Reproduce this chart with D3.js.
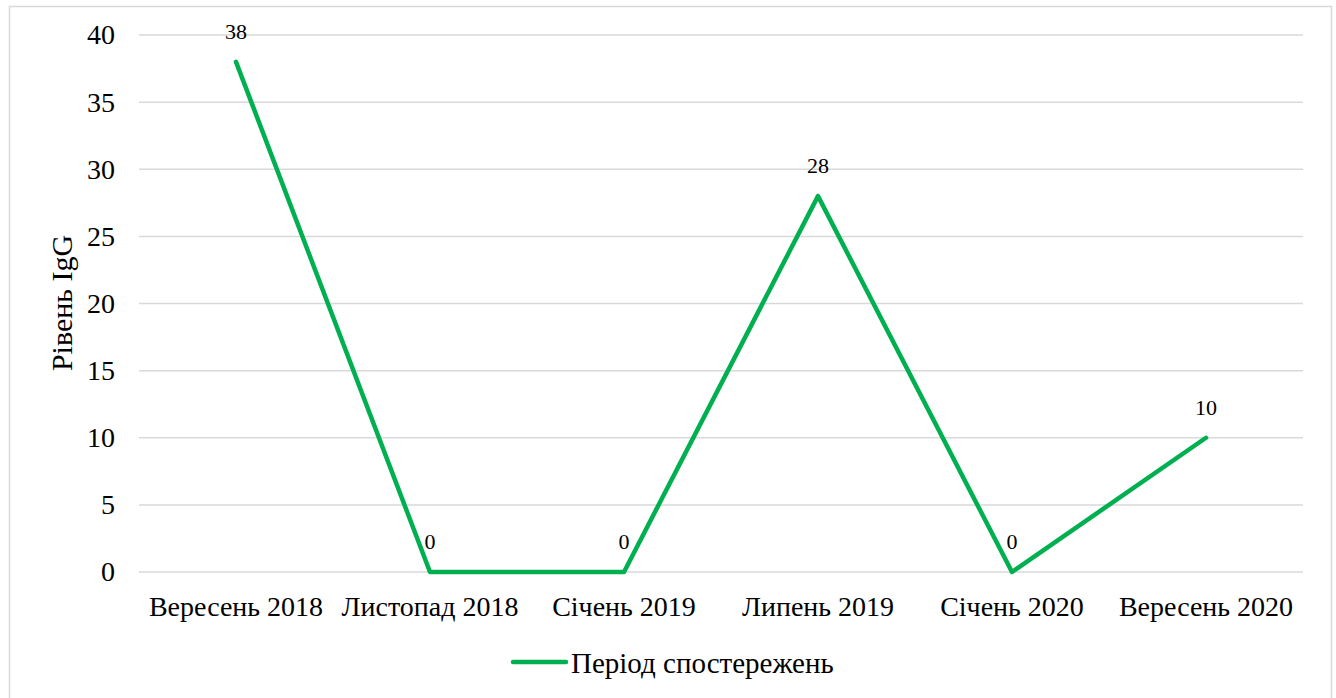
<!DOCTYPE html>
<html><head><meta charset="utf-8">
<script src="https://cdn.jsdelivr.net/npm/d3@7"></script>
<style>body{margin:0;background:#fff}svg{display:block}</style>
</head><body>
<svg id="c" width="1336" height="698" font-family="Liberation Serif"></svg>
<script>
const categories = ["Вересень 2018","Листопад 2018","Січень 2019","Липень 2019","Січень 2020","Вересень 2020"];
const values = [38, 0, 0, 28, 0, 10];
const yTicks = [0,5,10,15,20,25,30,35,40];
const seriesName = "Період спостережень";
const yTitle = "Рівень IgG";
const FONT = "Liberation Serif";

const svg = d3.select("#c");
svg.append("rect").attr("x",9.5).attr("y",6.5).attr("width",1322).attr("height",700)
  .attr("fill","#fff").attr("stroke","#d9d9d9").attr("stroke-width",1.5);

const x = d3.scaleBand().domain(categories).range([139,1303]);
const y = d3.scaleLinear().domain([0,40]).range([572,35]);

const grid = svg.append("g");
grid.selectAll("line").data(yTicks).join("line")
  .attr("x1",139).attr("x2",1303).attr("y1",d=>y(d)).attr("y2",d=>y(d))
  .attr("stroke","#d9d9d9").attr("stroke-width",1.5);

const yAxis = svg.append("g").attr("transform","translate(139,0)")
  .call(d3.axisLeft(y).tickValues(yTicks).tickSize(0).tickPadding(24));
yAxis.attr("font-family",FONT).attr("font-size",28);
yAxis.select(".domain").remove();
yAxis.selectAll("text").attr("fill","#000").attr("font-family",FONT);

const xAxis = svg.append("g").attr("transform","translate(0,572)")
  .call(d3.axisBottom(x).tickSize(0).tickPadding(24));
xAxis.attr("font-family",FONT).attr("font-size",28);
xAxis.select(".domain").remove();
xAxis.selectAll("text").attr("fill","#000").attr("font-family",FONT);

svg.append("text").attr("transform","translate(72,303) rotate(-90)")
  .attr("text-anchor","middle").attr("font-size",30).attr("font-family",FONT).text(yTitle);

const line = d3.line().x((d,i)=>x(categories[i])+x.bandwidth()/2).y(d=>y(d));
svg.append("path").datum(values).attr("d",line).attr("fill","none")
  .attr("stroke","#00B050").attr("stroke-width",4.5).attr("stroke-linejoin","round").attr("stroke-linecap","round");

svg.append("g").selectAll("text").data(values).join("text")
  .attr("x",(d,i)=>x(categories[i])+x.bandwidth()/2)
  .attr("y",d=>y(d)-23).attr("text-anchor","middle").attr("font-size",22).attr("font-family",FONT).text(d=>d);

const lg = svg.append("g");
lg.append("line").attr("x1",513).attr("x2",566).attr("y1",662).attr("y2",662)
  .attr("stroke","#00B050").attr("stroke-width",4.5).attr("stroke-linecap","round");
lg.append("text").attr("x",571).attr("y",673).attr("font-size",29).attr("font-family",FONT).text(seriesName);
</script>
</body></html>
